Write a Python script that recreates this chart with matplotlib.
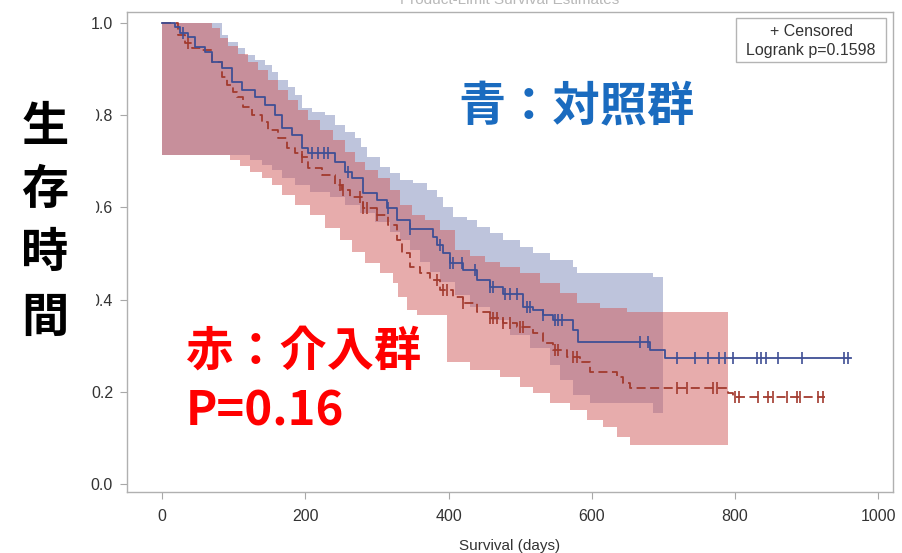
import numpy as np
import matplotlib.pyplot as plt
from matplotlib.patches import Rectangle

plt.rcParams['font.family'] = ['Liberation Sans', 'DejaVu Sans']

# Kaplan-Meier step estimates (days, survival)
blue_t = [0, 18, 25, 36, 46, 60, 70, 84, 98, 112, 130, 144, 158, 168, 181, 195, 204, 242, 255, 265,
          281, 300, 314, 328, 346, 378, 384, 392, 402, 420, 440, 458, 476, 504, 518, 532, 546, 574, 581, 681, 702]
blue_s = [1.0, 0.991, 0.978, 0.970, 0.948, 0.937, 0.915, 0.902, 0.872, 0.855, 0.840, 0.822, 0.800, 0.772, 0.757,
          0.729, 0.718, 0.698, 0.677, 0.664, 0.631, 0.616, 0.599, 0.573, 0.553, 0.536, 0.518, 0.501, 0.479, 0.464,
          0.443, 0.427, 0.412, 0.384, 0.377, 0.367, 0.356, 0.334, 0.308, 0.291, 0.273]
blue_end = 962
blue_cens = [29, 209, 218, 226, 232, 260, 316, 346, 388, 402, 406, 419, 437, 458, 462, 479, 486, 496, 509, 514,
             532, 549, 553, 558, 667, 678, 719, 744, 762, 777, 786, 797, 831, 836, 843, 860, 894, 952, 958]

red_t = [0, 22, 32, 42, 56, 70, 84, 91, 99, 105, 113, 126, 140, 148, 162, 175, 186, 195, 204, 223,
         242, 251, 262, 281, 300, 316, 328, 335, 346, 360, 374, 388, 406, 420, 440, 458, 476, 496, 518, 532,
         546, 565, 584, 598, 635, 644, 653, 790, 797]
red_s = [1.0, 0.974, 0.957, 0.946, 0.941, 0.915, 0.883, 0.866, 0.850, 0.840, 0.818, 0.800, 0.785, 0.768, 0.751,
         0.729, 0.718, 0.709, 0.685, 0.670, 0.649, 0.638, 0.623, 0.599, 0.584, 0.562, 0.529, 0.501, 0.471, 0.458,
         0.443, 0.421, 0.406, 0.393, 0.373, 0.360, 0.349, 0.341, 0.328, 0.306, 0.291, 0.275, 0.265, 0.243, 0.232,
         0.219, 0.208, 0.197, 0.189]
red_end = 926
red_cens = [36, 195, 248, 253, 276, 281, 286, 300, 384, 392, 398, 420, 458, 462, 468, 476, 486, 500, 504, 549,
            553, 574, 579, 719, 733, 769, 775, 800, 805, 832, 846, 853, 873, 886, 891, 916, 923]

# confidence bands (step functions)
blue_hi_t = [0, 84, 92, 106, 116, 130, 144, 154, 162, 176, 186, 195, 209, 227, 242, 255, 269, 278, 286, 304,
             318, 332, 350, 370, 384, 392, 406, 426, 440, 458, 476, 500, 518, 542, 574, 579, 685]
blue_hi_v = [1.0, 0.974, 0.959, 0.946, 0.930, 0.920, 0.909, 0.894, 0.876, 0.861, 0.844, 0.816, 0.807, 0.800,
             0.779, 0.764, 0.751, 0.730, 0.709, 0.688, 0.675, 0.659, 0.653, 0.638, 0.623, 0.601, 0.579, 0.573,
             0.557, 0.544, 0.529, 0.514, 0.501, 0.486, 0.471, 0.458, 0.449]
blue_lo_t = [0, 123, 140, 154, 168, 186, 207, 235, 255, 276, 297, 318, 332, 346, 360, 374, 388, 409, 430, 458,
             486, 514, 542, 556, 574, 598, 685]
blue_lo_v = [0.714, 0.703, 0.692, 0.681, 0.664, 0.649, 0.633, 0.623, 0.605, 0.588, 0.568, 0.547, 0.529, 0.508,
             0.482, 0.460, 0.438, 0.410, 0.384, 0.356, 0.323, 0.295, 0.258, 0.226, 0.193, 0.176, 0.154]
blue_band_end = 699

red_hi_t = [0, 70, 81, 92, 106, 120, 134, 148, 162, 176, 190, 204, 221, 239, 255, 269, 283, 302, 318, 332,
            349, 367, 388, 409, 430, 451, 472, 500, 528, 556, 579, 611, 649]
red_hi_v = [1.0, 0.989, 0.967, 0.950, 0.933, 0.915, 0.898, 0.876, 0.855, 0.833, 0.811, 0.790, 0.768, 0.746,
            0.720, 0.698, 0.681, 0.664, 0.638, 0.605, 0.584, 0.573, 0.551, 0.508, 0.495, 0.482, 0.471, 0.458,
            0.436, 0.414, 0.393, 0.382, 0.373]
red_lo_t = [0, 95, 109, 123, 140, 154, 168, 186, 207, 228, 249, 265, 283, 304, 323, 330, 342, 356, 374, 398,
            430, 472, 500, 518, 542, 570, 593, 615, 635, 653]
red_lo_v = [0.714, 0.703, 0.690, 0.677, 0.664, 0.649, 0.627, 0.605, 0.584, 0.555, 0.529, 0.503, 0.479, 0.458,
            0.436, 0.406, 0.377, 0.349, 0.312, 0.265, 0.247, 0.232, 0.210, 0.197, 0.176, 0.161, 0.139, 0.124,
            0.102, 0.085]
red_band_end = 790

x_ticks = [0, 200, 400, 600, 800, 1000]
y_ticks = [0.0, 0.2, 0.4, 0.6, 0.8, 1.0]


def step_at(t, v, x):
    t = np.asarray(t, float)
    v = np.asarray(v, float)
    i = np.searchsorted(t, x, side='right') - 1
    return v[np.clip(i, 0, len(v) - 1)]


def draw_band(ax, lo_t, lo_v, hi_t, hi_v, end, color, alpha):
    grid = np.unique(np.concatenate([lo_t, hi_t, [end]]))
    grid = grid[grid <= end]
    ax.fill_between(grid, step_at(lo_t, lo_v, grid), step_at(hi_t, hi_v, grid),
                    step='post', color=color, alpha=alpha, lw=0)


def draw_km(ax, t, s, end, cens, color, ls):
    ax.step(list(t) + [end], list(s) + [s[-1]], where='post', color=color, lw=1.3, ls=ls)
    c = np.array(cens, float)
    ax.plot(c, step_at(t, s, c), ls='none', marker='|', ms=8, mew=1.2, color=color)


W, H = 902, 553
fig = plt.figure(figsize=(W / 100, H / 100), dpi=100)
ax = fig.add_axes([127 / W, 61 / H, 766 / W, 480 / H])

draw_band(ax, blue_lo_t, blue_lo_v, blue_hi_t, blue_hi_v, blue_band_end, '#6f7eb3', 0.45)
draw_band(ax, red_lo_t, red_lo_v, red_hi_t, red_hi_v, red_band_end, '#d05b5b', 0.5)
draw_km(ax, red_t, red_s, red_end, red_cens, '#a23a2e', (0, (5, 2.5)))
draw_km(ax, blue_t, blue_s, blue_end, blue_cens, '#3f4f95', '-')

ax.set_xlim(-49, 1020.5)
ax.set_ylim(-0.0174, 1.0239)
ax.set_xticks(x_ticks)
ax.set_yticks(y_ticks)
ax.set_yticklabels([f'{v:.1f}' for v in y_ticks])
ax.tick_params(length=5, width=0.8, color='#a8a8a8', labelcolor='#333333', labelsize=11.5)
ax.tick_params(axis='x', pad=7)
ax.tick_params(axis='y', pad=5)
for sp in ax.spines.values():
    sp.set_color('#b0b0b0')
    sp.set_linewidth(1)

# legend box inside the plot
fig.add_artist(Rectangle((736 / W, 1 - 62 / H), 150 / W, 44 / H, transform=fig.transFigure,
                         facecolor='white', edgecolor='#b4b4b4', lw=1, zorder=3))
fig.text(811 / W, 1 - 31 / H, '+ Censored', ha='center', va='center', fontsize=11.5, color='#333333', zorder=4)
fig.text(811 / W, 1 - 51 / H, 'Logrank p=0.1598', ha='center', va='center', fontsize=11.5, color='#333333', zorder=4)

# faint, cut-off title and x label
fig.text(510 / W, 1 - 4 / H, 'Product-Limit Survival Estimates', ha='center', va='baseline',
         fontsize=11, color='#b8b8b8')
fig.text(510 / W, 1 - 539 / H, 'Survival (days)', ha='center', va='top', fontsize=11, color='#333333')

# white boxes behind the overlaid annotations
fig.add_artist(Rectangle((0, 1 - 345 / H), 96 / W, 250 / H, transform=fig.transFigure,
                         facecolor='white', edgecolor='none', zorder=5))
fig.add_artist(Rectangle((175 / W, 1 - 445 / H), 272 / W, 130 / H, transform=fig.transFigure,
                         facecolor='white', edgecolor='none', zorder=5))

jp = ['Noto Sans CJK JP', 'DejaVu Sans']
for ch, yc in zip('生存時間', [127, 190, 253, 318]):
    fig.text(45 / W, 1 - yc / H, ch, ha='center', va='center', fontsize=34, fontweight='bold',
             family=jp, color='black', zorder=6)
fig.text(458 / W, 1 - 107 / H, '青：対照群', ha='left', va='center', fontsize=34, fontweight='bold',
         family=jp, color='#1a6bbf', zorder=6)
fig.text(185 / W, 1 - 352 / H, '赤：介入群', ha='left', va='center', fontsize=34, fontweight='bold',
         family=jp, color='#ff0000', zorder=6)
fig.text(186 / W, 1 - 412 / H, 'P=0.16', ha='left', va='center', fontsize=34, fontweight='bold',
         family=jp, color='#ff0000', zorder=6)

fig.savefig('out.png', dpi=100)
